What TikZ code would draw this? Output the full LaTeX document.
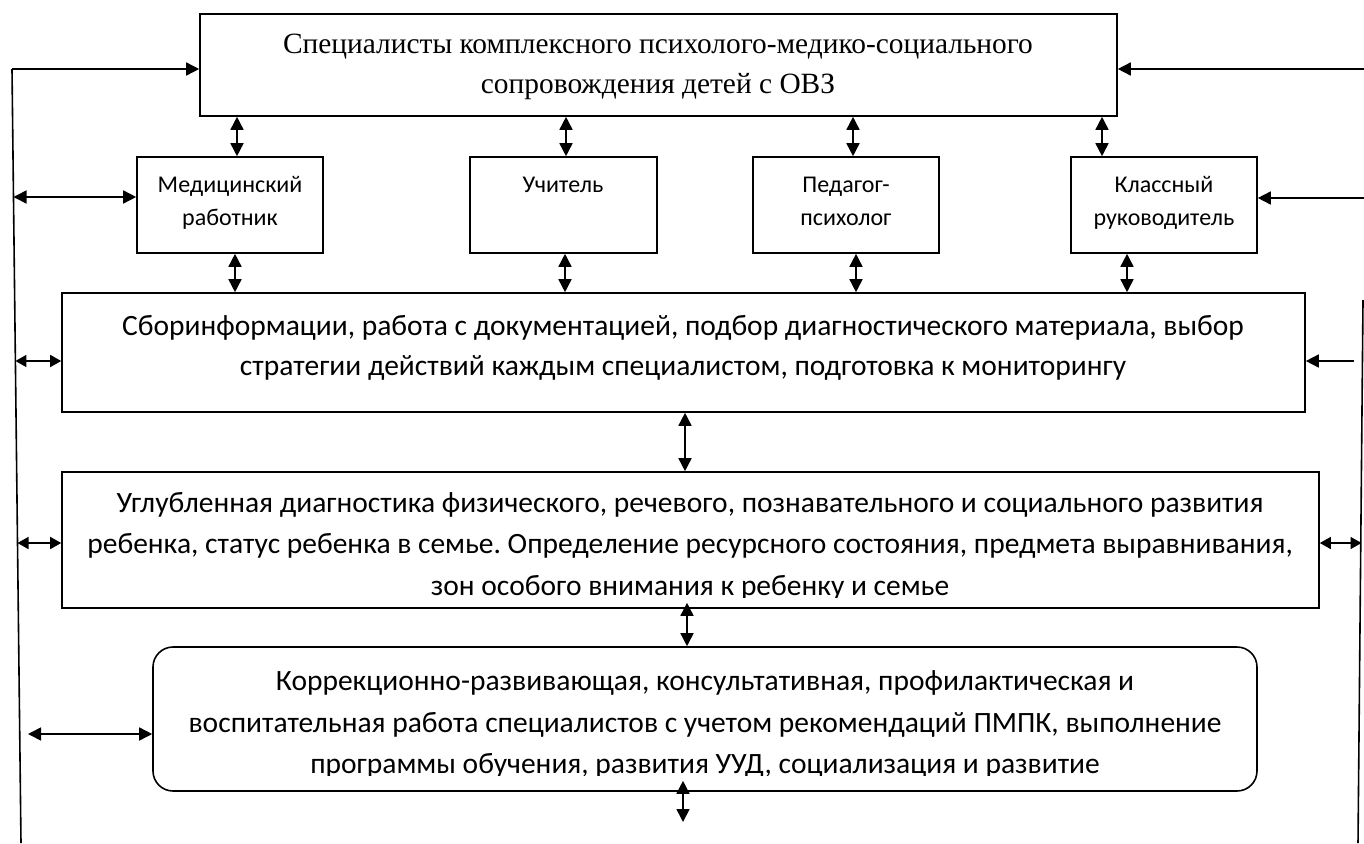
\documentclass[tikz,border=0pt]{standalone}
\usepackage{fontspec}
\setmainfont{Carlito}
\newfontfamily\tnr{Liberation Serif}
\usetikzlibrary{arrows.meta,fit}
\frenchspacing
\begin{document}
\begin{tikzpicture}[x=1pt,y=-1pt,line width=1.6pt,
  box/.style={draw,line width=1.6pt,inner sep=0pt},
  rbox/.style={draw,line width=1.6pt,inner sep=0pt,rounded corners=20pt},
  arr/.style={-{Triangle[length=13pt,width=13pt]}},
  darr/.style={{Triangle[length=13pt,width=13pt]}-{Triangle[length=13pt,width=13pt]}},
  sdarr/.style={{Triangle[length=11pt,width=12pt]}-{Triangle[length=11pt,width=12pt]}},
  ttop/.style={anchor=base,inner sep=0pt,font=\tnr\fontsize{29.4}{33}\selectfont},
  tsmall/.style={anchor=base,inner sep=0pt,font=\fontsize{24}{28}\selectfont},
  tbig/.style={anchor=base,inner sep=0pt,font=\fontsize{29.5}{33}\selectfont}]
\useasboundingbox (0,0) rectangle (1364,843);
% boxes
\node[box,fit={(200,14) (1117,116)}] (top) {};
\node[box,fit={(137,157) (323,253)}] (med) {};
\node[box,fit={(470,157) (657,253)}] (uch) {};
\node[box,fit={(753,157) (939,253)}] (ped) {};
\node[box,fit={(1071,157) (1257,253)}] (kl) {};
\node[box,fit={(62,293) (1305,412)}] (sbor) {};
\node[box,fit={(62,472) (1319,608)}] (ugl) {};
\node[rbox,fit={(153,647) (1257,791)}] (rnd) {};
% texts
\node[ttop] (topT1) at (658,54) {Специалисты комплексного психолого-медико-социального};
\node[ttop] (topT2) at (658,93) {сопровождения детей с ОВЗ};
\node[tsmall] (medT1) at (230,192) {Медицинский};
\node[tsmall] (medT2) at (230,225) {работник};
\node[tsmall] (uchT1) at (563,192) {Учитель};
\node[tsmall] (pedT1) at (846,192) {Педагог-};
\node[tsmall] (pedT2) at (846,225) {психолог};
\node[tsmall] (klT1) at (1164,192) {Классный};
\node[tsmall] (klT2) at (1164,225) {руководитель};
\node[tbig] (sborT1) at (683,335) {Сборинформации, работа с документацией, подбор диагностического материала, выбор};
\node[tbig] (sborT2) at (683,375) {стратегии действий каждым специалистом, подготовка к мониторингу};
\begin{scope}
\clip (62,472) rectangle (1319,597);
\node[tbig] (uglT1) at (690,512) {Углубленная диагностика физического, речевого, познавательного и социального развития};
\node[tbig] (uglT2) at (690,553) {ребенка, статус ребенка в семье. Определение ресурсного состояния, предмета выравнивания,};
\node[tbig] (uglT3) at (690,595) {зон особого внимания к ребенку и семье};
\end{scope}
\begin{scope}
\clip (153,647) rectangle (1257,775);
\node[tbig] (rndT1) at (705,690) {Коррекционно-развивающая, консультативная, профилактическая и};
\node[tbig] (rndT2) at (705,732) {воспитательная работа специалистов с учетом рекомендаций ПМПК, выполнение};
\node[tbig] (rndT3) at (705,773) {программы обучения, развития УУД, социализация и развитие};
\end{scope}
% side lines
\coordinate (L0) at (12,69);
\coordinate (L1) at (21,843);
\coordinate (Lmed) at (13.5,197);
\coordinate (Lsb) at (15.4,361);
\coordinate (Lug) at (17.5,543);
\coordinate (Lr) at (28,734);
\coordinate (R0) at (1364,69);
\coordinate (R1) at (1364,198);
\coordinate (Rs) at (1354,361);
\coordinate (RL0) at (1363,300);
\coordinate (RL1) at (1358,843);
\coordinate (Ru) at (1361.5,543);
\coordinate (bot) at (683,822);
\draw (L0) -- (L1);
\draw (RL0) -- (RL1);
\draw[arr] (L0) -- (L0 -| top.west);
\draw[arr] (R0) -- (R0 -| top.east);
\draw[darr] (Lmed) -- (Lmed -| med.west);
\draw[arr] (R1) -- (R1 -| kl.east);
\draw[sdarr] (Lsb) -- (Lsb -| sbor.west);
\draw[arr] (Rs) -- (Rs -| sbor.east);
\draw[sdarr] (Lug) -- (Lug -| ugl.west);
\draw[sdarr] (Ru) -- (Ru -| ugl.east);
\draw[darr] (Lr) -- (Lr -| rnd.west);
% vertical arrows
\draw[darr] ([xshift=7pt]med.north) -- ([xshift=7pt]med.north |- top.south);
\draw[darr] ([xshift=2.5pt]uch.north) -- ([xshift=2.5pt]uch.north |- top.south);
\draw[darr] ([xshift=7pt]ped.north) -- ([xshift=7pt]ped.north |- top.south);
\draw[darr] ([xshift=-62pt]kl.north) -- ([xshift=-62pt]kl.north |- top.south);
\draw[darr] ([xshift=5pt]med.south) -- ([xshift=5pt]med.south |- sbor.north);
\draw[darr] ([xshift=1.5pt]uch.south) -- ([xshift=1.5pt]uch.south |- sbor.north);
\draw[darr] ([xshift=10pt]ped.south) -- ([xshift=10pt]ped.south |- sbor.north);
\draw[darr] ([xshift=-37pt]kl.south) -- ([xshift=-37pt]kl.south |- sbor.north);
\draw[darr] ([xshift=1.5pt]sbor.south) -- ([xshift=1.5pt]sbor.south |- ugl.north);
\draw[darr] ([xshift=-3.5pt,yshift=6pt]ugl.south) -- ([xshift=-3.5pt]ugl.south |- rnd.north);
\draw[darr] ([xshift=-22pt,yshift=11pt]rnd.south) -- (bot);
\end{tikzpicture}
\end{document}
